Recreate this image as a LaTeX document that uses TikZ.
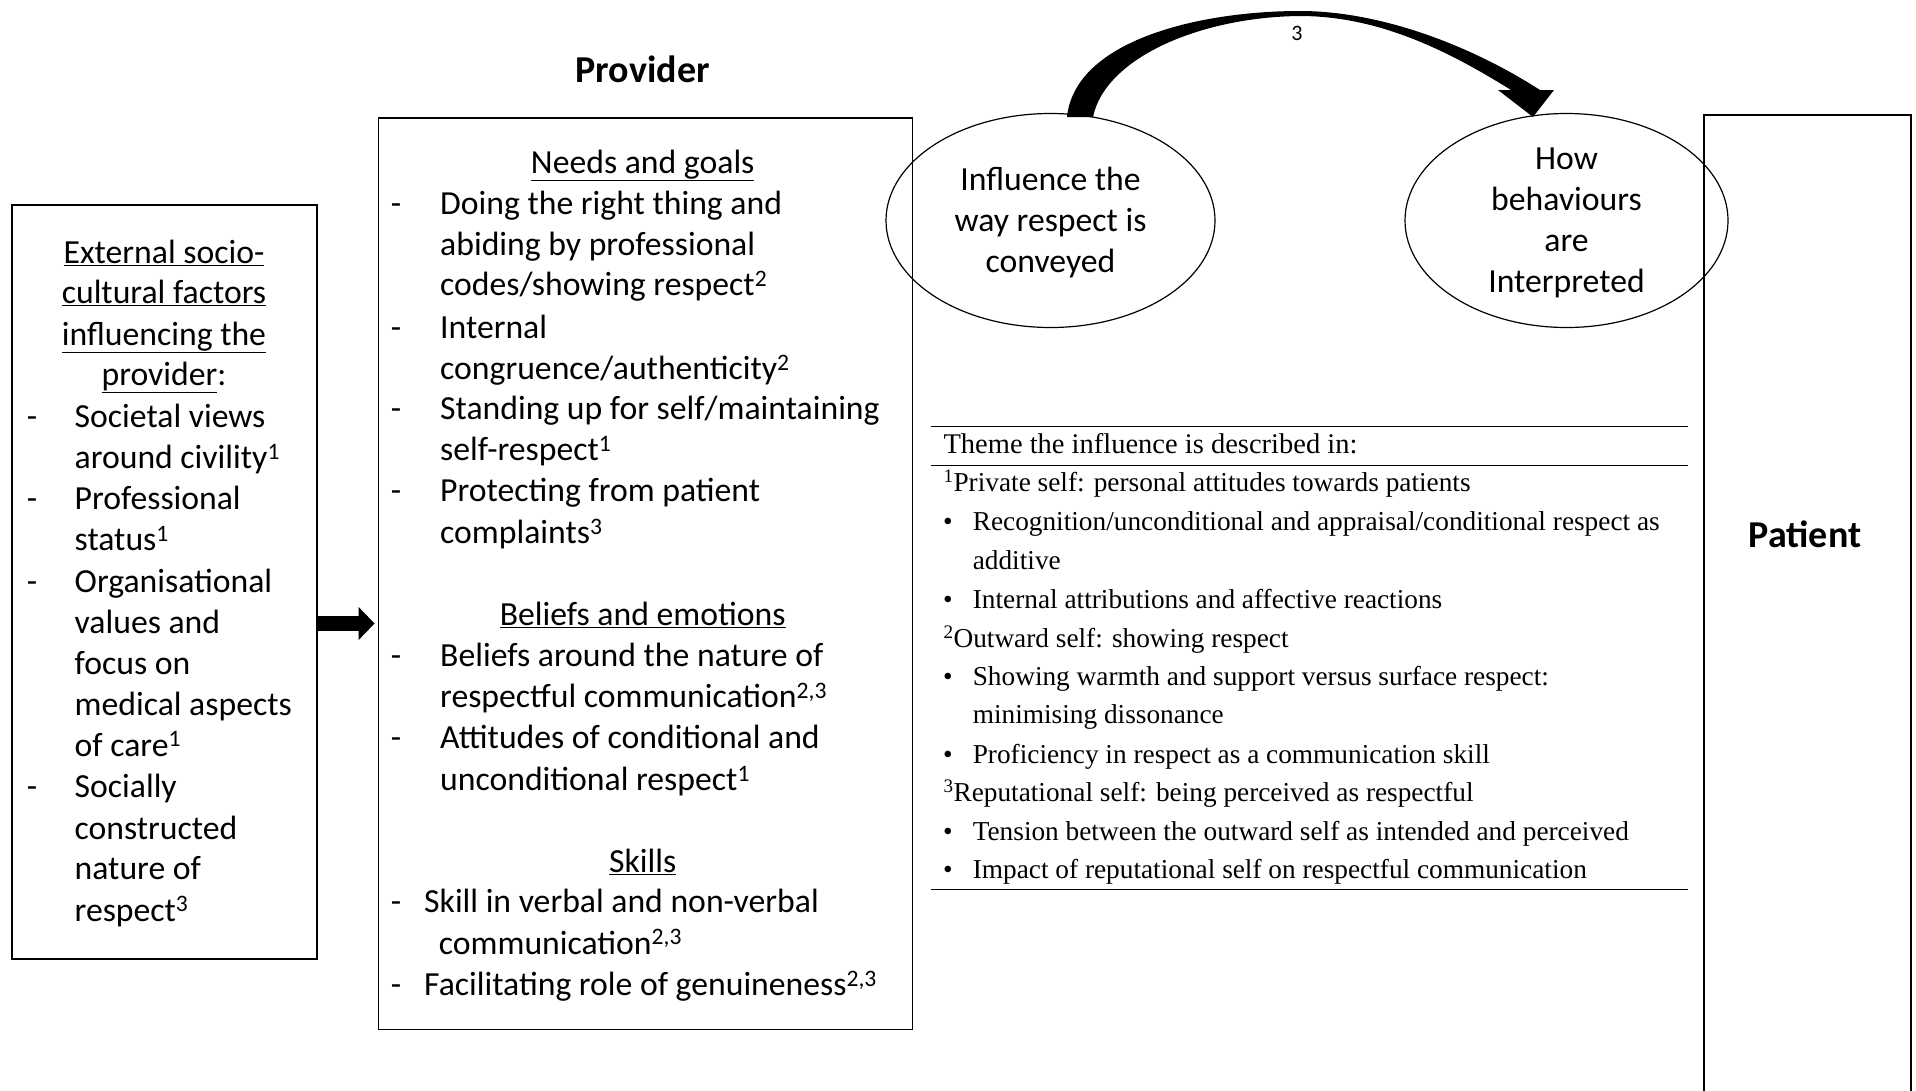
\documentclass[tikz,border=0pt]{standalone}
\usepackage{fontspec}
\setmainfont{Carlito}
\newfontfamily\tnr{Liberation Serif}
\usetikzlibrary{shapes.geometric,arrows.meta,calc}

\tikzset{
  frame/.style={draw, line width=1.5pt, inner sep=0pt, anchor=north west},
  txt/.style={inner sep=0pt, font=\fontsize{33.7}{41}\selectfont},
  lline/.style={txt, anchor=mid west, yshift=-9.5pt},
  ctitle/.style={txt, anchor=mid, yshift=-9.5pt},
  dashmark/.style={txt, anchor=mid, yshift=-9.5pt},
  bubble/.style={draw, ellipse, line width=1.2pt, inner sep=0pt, minimum height=214pt},
  tline/.style={inner sep=0pt, anchor=mid west, yshift=-6.5pt, font=\tnr\fontsize{27.3}{33}\selectfont},
  tbullet/.style={inner sep=0pt, anchor=mid, yshift=-6.5pt, font=\tnr\fontsize{27.3}{33}\selectfont},
  rule/.style={line width=1.4pt},
  heading/.style={inner sep=0pt, anchor=mid, yshift=-11pt, font=\bfseries\fontsize{38}{46}\selectfont},
}

\begin{document}
\begin{tikzpicture}[x=1pt,y=-1pt]
\useasboundingbox (0,0) rectangle (1916,1090);

% ---------- frames ----------
\node[frame, minimum width=305pt, minimum height=754pt] (ext) at (11,204) {};
\node[frame, minimum width=534pt, minimum height=911.5pt] (prov) at (377.6,117.3) {};
\node[frame, minimum width=207pt, minimum height=990pt] (pat) at (1703,114) {};

\node[heading] (provt) at (642.7,69.6) {Provider};
\node[heading] (patt) at (1805,534) {Patient};

% ---------- external factors ----------
\node[ctitle] (ex1) at (164,251.7) {\underline{External socio-}};
\node[ctitle] (ex2) at (164,292.0) {\underline{cultural factors}};
\node[ctitle] (ex3) at (164,333.6) {\underline{influencing the}};
\node[ctitle] (ex4) at (164,373.9) {\underline{provider}:};

\foreach \ly/\ltext [count=\i] in {
  415.4/{Societal views},
  457.0/{around civility\textsuperscript{1}},
  497.3/{Professional},
  538.9/{status\textsuperscript{1}},
  580.4/{Organisational},
  621.9/{values and},
  662.3/{focus on},
  703.8/{medical aspects},
  744.1/{of care\textsuperscript{1}},
  785.7/{Socially},
  827.2/{constructed},
  867.5/{nature of},
  909.1/{respect\textsuperscript{3}}}
  \node[lline] (exl\i) at (74.5,\ly) {\ltext};

\foreach \ly [count=\i] in {415.4,497.3,580.4,785.7}
  \node[dashmark] (exd\i) at (32,\ly) {-};

% ---------- provider ----------
\node[ctitle] (pt1) at (642.7,161.3) {\underline{Needs and goals}};
\node[ctitle] (pt2) at (642.7,613.4) {\underline{Beliefs and emotions}};
\node[ctitle] (pt3) at (642.7,860.2) {\underline{Skills}};

\foreach \lx/\ly/\ltext [count=\i] in {
  440/202.8/{Doing the right thing and},
  440/243.2/{abiding by professional},
  440/283.5/{codes/showing respect\textsuperscript{2}},
  440/326.2/{Internal},
  440/367.8/{congruence/authenticity\textsuperscript{2}},
  440/408.1/{Standing up for self/maintaining},
  440/448.4/{self-respect\textsuperscript{1}},
  440/490.0/{Protecting from patient},
  440/531.5/{complaints\textsuperscript{3}},
  440/654.9/{Beliefs around the nature of},
  440/695.3/{respectful communication\textsuperscript{2,3}},
  440/736.8/{Attitudes of conditional and},
  440/778.3/{unconditional respect\textsuperscript{1}},
  424/900.5/{Skill in verbal and non-verbal},
  438.7/942.1/{communication\textsuperscript{2,3}},
  424/983.6/{Facilitating role of genuineness\textsuperscript{2,3}}}
  \node[lline] (pl\i) at (\lx,\ly) {\ltext};

\foreach \ly [count=\i] in {202.8,326.2,408.1,490.0,654.9,736.8,900.5,983.6}
  \node[dashmark] (pd\i) at (396,\ly) {-};

% ---------- arrow into the provider box ----------
\coordinate (ay) at (0,623.5);
\draw[line width=15pt, -{Triangle[length=16pt,width=32pt]}, shorten >=3pt]
  (ext.east |- ay) -- (prov.west |- ay);

% ---------- the two bubbles ----------
\node[bubble, minimum width=329pt] (e1) at (1050.5,220.5) {};
\node[bubble, minimum width=323pt] (e2) at (1566.5,220.5) {};
\node[txt, align=center, yshift=-2.5pt] (e1t) at (e1) {Influence the\\way respect is\\conveyed};
\node[txt, align=center, yshift=-2.5pt] (e2t) at (e2) {How\\behaviours\\are\\Interpreted};

% curved, tapering arrow between the bubbles
\coordinate (ca) at (1067,117);
\coordinate (cb) at (1093,117);
\coordinate (ctip) at (1533,117);
\fill (ca) .. controls (1075,40) and (1200,11) .. (1300,11)
      .. controls (1380,11) and (1470,45) .. (1540,90)
      -- (1554,90) -- (ctip) -- (1498,90) -- (1511,90)
      .. controls (1450,52) and (1380,16) .. (1300,16)
      .. controls (1200,17) and (1105,58) .. (cb) -- cycle;
\node[inner sep=0pt, font=\fontsize{22}{26}\selectfont] (lab3) at (1297,33) {3};

% ---------- themes table ----------
\coordinate (tl) at (931,0);
\coordinate (tr) at (1688,0);
\draw[rule] (tl |- 0,426.4) -- (tr |- 0,426.4);
\draw[rule] (tl |- 0,465.5) -- (tr |- 0,465.5);
\draw[rule] (tl |- 0,889.5) -- (tr |- 0,889.5);

\node[tline, font=\tnr\fontsize{28.5}{33}\selectfont] (th) at (943.3,444.8) {Theme the influence is described in:};

\foreach \lx/\ly/\ltext [count=\i] in {
  943.3/482.7/{\textsuperscript{1}Private self: personal attitudes towards patients},
  972.6/521.7/{Recognition/unconditional and appraisal/conditional respect as},
  972.6/560.9/{additive},
  972.6/600.0/{Internal attributions and affective reactions},
  943.3/639.0/{\textsuperscript{2}Outward self: showing respect},
  972.6/677.0/{Showing warmth and support versus surface respect:},
  972.6/714.8/{minimising dissonance},
  972.6/755.0/{Proficiency in respect as a communication skill},
  943.3/793.0/{\textsuperscript{3}Reputational self: being perceived as respectful},
  972.6/832.0/{Tension between the outward self as intended and perceived},
  972.6/870.0/{Impact of reputational self on respectful communication}}
  \node[tline] (tt\i) at (\lx,\ly) {\ltext};

\foreach \ly [count=\i] in {521.7,600.0,677.0,755.0,832.0,870.0}
  \node[tbullet] (tb\i) at (948,\ly) {\textbullet};

\end{tikzpicture}
\end{document}
